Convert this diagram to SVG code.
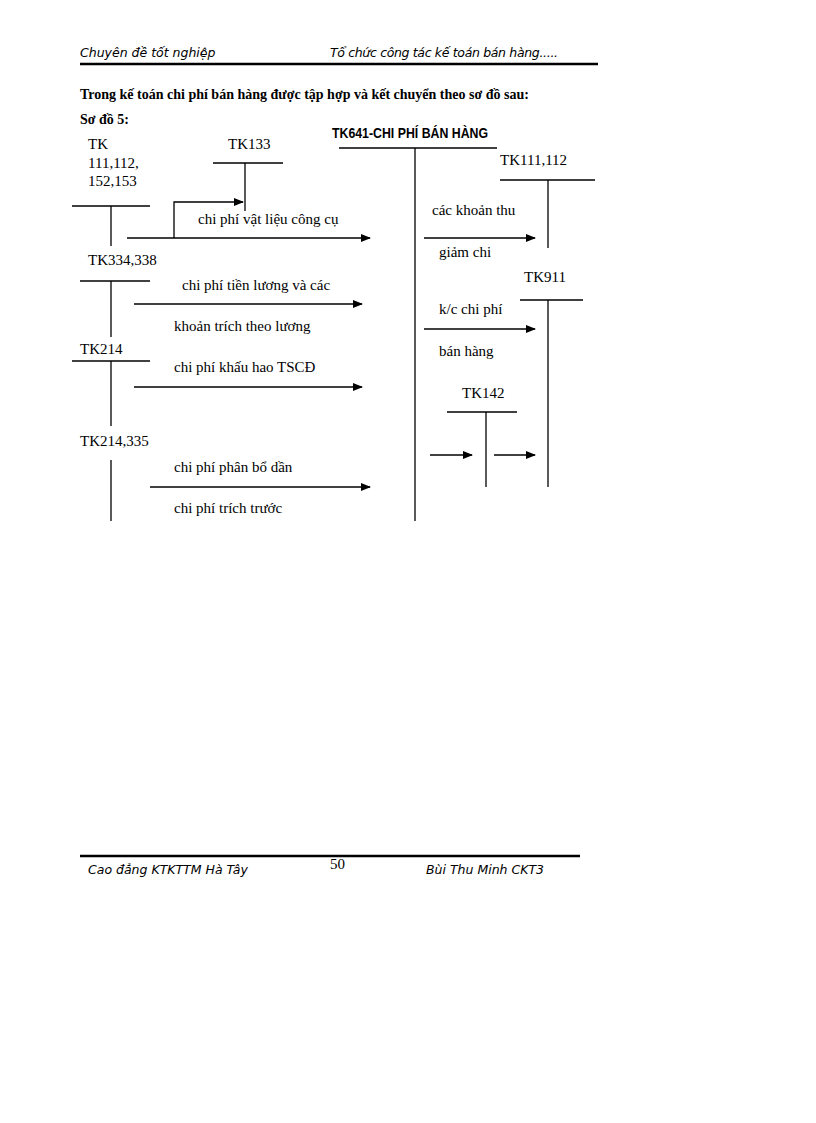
<svg xmlns="http://www.w3.org/2000/svg" width="816" height="1123" viewBox="0 0 816 1123">
<defs><marker id="a" markerWidth="10" markerHeight="8" refX="9" refY="4" orient="auto" markerUnits="userSpaceOnUse"><path d="M0,0 L10,4 L0,8 z" fill="#000"/></marker></defs>
<style>
.t{font-family:"Liberation Serif",serif;font-size:15px;fill:#000}
.s{font-family:"Liberation Serif",serif;font-size:14px;fill:#000}
.h{font-family:"DejaVu Sans",sans-serif;font-size:12.5px;font-style:italic;fill:#000}
line{stroke:#000;stroke-width:1.3}
.c line,.c path{stroke:#000;stroke-width:1.3;fill:none}
</style>
<rect width="816" height="1123" fill="#fff"/>
<g id="header">
<text class="h" x="80" y="57">Chuyên đề tốt nghiệp</text>
<text class="h" x="330" y="57" textLength="228">Tổ chức công tác kế toán bán hàng.....</text>
<line x1="80" y1="64" x2="598" y2="64" style="stroke-width:2.5"/>
</g>
<text class="s" x="80" y="99" font-weight="bold">Trong kế toán chi phí bán hàng được tập hợp và kết chuyển theo sơ đồ sau:</text>
<text class="s" x="80" y="124" font-weight="bold">Sơ đồ 5:</text>
<g id="tk641"><text x="332" y="138" font-family="Liberation Sans,sans-serif" font-size="14" font-weight="bold" textLength="156" lengthAdjust="spacingAndGlyphs">TK641-CHI PHÍ BÁN HÀNG</text>
<line x1="339" y1="148" x2="497" y2="148"/><line x1="415" y1="148" x2="415" y2="521"/></g>
<g id="tk111a"><text class="t" x="88" y="149">TK</text><text class="t" x="88" y="168">111,112,</text><text class="t" x="88" y="186">152,153</text>
<line x1="72" y1="206" x2="150" y2="206"/><line x1="111" y1="206" x2="111" y2="246"/></g>
<g id="tk133"><text class="t" x="228" y="149">TK133</text><line x1="213" y1="163" x2="283" y2="163"/><line x1="245" y1="163" x2="245" y2="211"/></g>
<g id="tk334"><text class="t" x="88" y="265">TK334,338</text><line x1="80" y1="281" x2="150" y2="281"/><line x1="111" y1="281" x2="111" y2="337"/></g>
<g id="tk214"><text class="t" x="80" y="354">TK214</text><line x1="72" y1="361" x2="150" y2="361"/><line x1="111" y1="361" x2="111" y2="426"/></g>
<g id="tk214335"><text class="t" x="80" y="446">TK214,335</text><line x1="111" y1="460" x2="111" y2="521"/></g>
<g id="tk111b"><text class="t" x="500" y="165">TK111,112</text><line x1="500" y1="180" x2="595" y2="180"/><line x1="548" y1="180" x2="548" y2="248"/></g>
<g id="tk911"><text class="t" x="524" y="282">TK911</text><line x1="520" y1="300" x2="583" y2="300"/><line x1="548" y1="300" x2="548" y2="487"/></g>
<g id="tk142"><text class="t" x="462" y="398">TK142</text><line x1="447" y1="412" x2="517" y2="412"/><line x1="486" y1="412" x2="486" y2="487"/></g>
<g class="c" id="connectors">
<path d="M174,238 V202 H243" marker-end="url(#a)"/>
<line x1="127" y1="238" x2="370" y2="238" marker-end="url(#a)"/>
<line x1="134" y1="304" x2="362" y2="304" marker-end="url(#a)"/>
<line x1="134" y1="387" x2="362" y2="387" marker-end="url(#a)"/>
<line x1="150" y1="487" x2="370" y2="487" marker-end="url(#a)"/>
<line x1="424" y1="238" x2="535" y2="238" marker-end="url(#a)"/>
<line x1="424" y1="329" x2="535" y2="329" marker-end="url(#a)"/>
<line x1="430" y1="455" x2="472" y2="455" marker-end="url(#a)"/>
<line x1="494" y1="455" x2="535" y2="455" marker-end="url(#a)"/>
</g>
<text class="t" x="198" y="224">chi phí vật liệu công cụ</text>
<text class="t" x="182" y="290">chi phí tiền lương và các</text>
<text class="t" x="174" y="331">khoản trích theo lương</text>
<text class="t" x="174" y="372">chi phí khấu hao TSCĐ</text>
<text class="t" x="174" y="472">chi phí phân bổ dần</text>
<text class="t" x="174" y="513">chi phí trích trước</text>
<text class="t" x="432" y="215">các khoản thu</text>
<text class="t" x="439" y="257">giảm chi</text>
<text class="t" x="439" y="314">k/c chi phí</text>
<text class="t" x="439" y="356">bán hàng</text>
<g id="footer">
<line x1="80" y1="856" x2="580" y2="856" style="stroke-width:2.5"/>
<text class="h" x="88" y="874">Cao đẳng KTKTTM Hà Tây</text>
<text class="t" x="330" y="869">50</text>
<text class="h" x="426" y="874">Bùi Thu Minh CKT3</text>
</g>
</svg>
